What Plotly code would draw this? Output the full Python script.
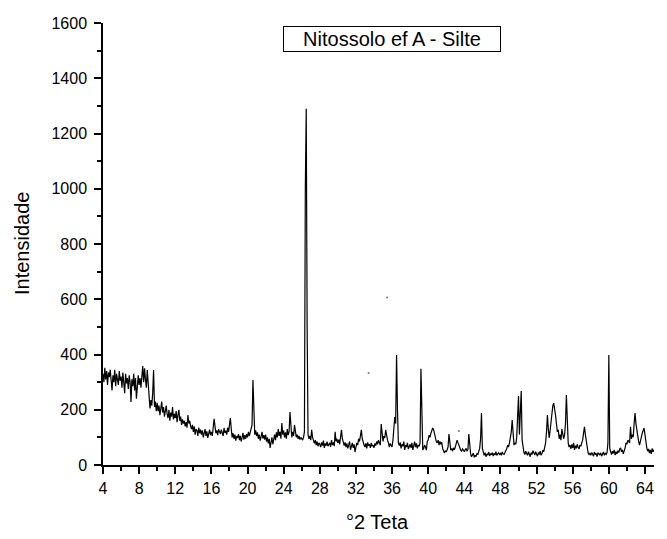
import plotly.graph_objects as go

# 2-theta sampling of the diffractogram (degrees), regular 0.1 deg step
two_theta_start = 4.0
two_theta_step = 0.1

# Intensity, one row per degree (d.0 ... d.9)
intens_04_13 = [
    330, 300, 352, 310, 340, 290, 335, 318, 345, 300,   # 4
    270, 325, 300, 345, 285, 330, 310, 290, 340, 305,   # 5
    320, 280, 335, 300, 260, 330, 295, 315, 275, 325,   # 6
    300, 228, 310, 285, 330, 270, 315, 240, 300, 325,   # 7
    290, 315, 280, 330, 358, 300, 350, 310, 280, 344,   # 8
    300, 250, 205, 235, 215, 260, 344, 210, 230, 195,   # 9
    225, 195, 215, 180, 205, 230, 190, 210, 175, 200,   # 10
    215, 185, 170, 200, 160, 190, 175, 210, 165, 185,   # 11
    170, 195, 155, 180, 200, 160, 175, 145, 165, 150,   # 12
    160, 140, 155, 135, 181, 150, 160, 140, 130, 145,   # 13
]
intens_14_23 = [
    120, 140, 110, 130, 125, 105, 135, 115, 128, 110,   # 14
    125, 100, 118, 130, 105, 122, 98, 115, 128, 108,    # 15
    120, 105, 130, 167, 140, 115, 125, 108, 130, 118,   # 16
    112, 128, 120, 105, 134, 116, 124, 110, 135, 120,   # 17
    145, 170, 130, 100, 115, 95, 110, 88, 105, 98,      # 18
    112, 90, 106, 85, 100, 116, 92, 108, 95, 112,       # 19
    100, 120, 105, 118, 130, 145, 308, 160, 110, 125,   # 20
    105, 118, 95, 110, 88, 102, 120, 96, 108, 92,       # 21
    110, 85, 100, 78, 95, 62, 88, 100, 75, 95,          # 22
    110, 90, 118, 100, 130, 105, 120, 95, 152, 110,     # 23
]
intens_24_33 = [
    125, 100, 118, 95, 130, 108, 120, 192, 115, 100,    # 24
    120, 105, 145, 118, 100, 110, 95, 105, 92, 100,     # 25
    95, 90, 100, 120, 1000, 1290, 500, 110, 95, 105,    # 26
    90, 127, 100, 85, 78, 90, 72, 85, 68, 80,           # 27
    75, 65, 82, 70, 88, 62, 78, 70, 85, 68,             # 28
    75, 80, 66, 90, 72, 82, 68, 120, 85, 95,            # 29
    80, 92, 75, 100, 127, 95, 85, 70, 82, 65,           # 30
    78, 60, 72, 85, 55, 70, 80, 62, 75, 47,             # 31
    68, 80, 72, 95, 85, 105, 127, 95, 80, 72,           # 32
    65, 78, 60, 82, 70, 75, 62, 80, 68, 72,             # 33
]
intens_34_43 = [
    62, 78, 70, 85, 75, 90, 80, 72, 148, 95,            # 34
    85, 105, 98, 127, 100, 90, 80, 65, 78, 72,          # 35
    65, 90, 120, 174, 150, 398, 200, 80, 70, 82,        # 36
    60, 75, 68, 85, 55, 72, 65, 80, 58, 70,             # 37
    75, 62, 80, 55, 70, 85, 65, 78, 60, 72,             # 38
    68, 80, 348, 100, 54, 60, 72, 65, 54, 85,           # 39
    90, 108, 100, 115, 125, 134, 128, 110, 90, 85,      # 40
    80, 90, 72, 85, 75, 82, 60, 48, 43, 52,             # 41
    47, 55, 65, 112, 70, 54, 60, 50, 62, 55,            # 42
    65, 75, 90, 80, 70, 60, 54, 50, 58, 54,             # 43
]
intens_44_53 = [
    48, 55, 60, 50, 56, 112, 65, 40, 30, 38,            # 44
    43, 28, 35, 30, 42, 38, 50, 60, 95, 188,            # 45
    60, 42, 35, 45, 30, 40, 36, 47, 33, 40,             # 46
    38, 45, 32, 42, 36, 48, 35, 40, 44, 38,             # 47
    42, 35, 47, 40, 38, 45, 50, 60, 72, 65,             # 48
    80, 95, 120, 163, 90, 72, 80, 75, 100, 180,         # 49
    250, 110, 200, 268, 90, 54, 45, 38, 50, 42,         # 50
    35, 48, 40, 30, 45, 38, 52, 42, 36, 48,             # 51
    40, 32, 45, 38, 50, 35, 42, 54, 48, 60,             # 52
    80, 120, 181, 130, 98, 125, 160, 195, 215, 224,     # 53
]
intens_54_65 = [
    205, 180, 150, 120, 127, 95, 110, 90, 130, 105,     # 54
    95, 110, 150, 253, 120, 80, 65, 72, 58, 75,         # 55
    62, 80, 55, 70, 60, 75, 65, 58, 72, 68,             # 56
    80, 90, 115, 138, 110, 85, 60, 45, 38, 42,          # 57
    35, 45, 40, 32, 47, 38, 42, 30, 45, 40,             # 58
    36, 44, 32, 40, 47, 35, 42, 38, 45, 80,             # 59
    398, 60, 45, 38, 50, 42, 55, 36, 48, 40,            # 60
    52, 45, 58, 62, 48, 55, 40, 50, 62, 80,             # 61
    75, 90, 85, 80, 138, 95, 110, 101, 150, 188,        # 62
    150, 120, 101, 85, 72, 90, 100, 115, 125, 134,      # 63
    110, 80, 62, 50, 58, 43, 55, 40, 60, 48,            # 64
    55,                                                 # 65.0
]

# isolated stray points visible in the picture
stray_x = [33.4, 35.45, 43.4]
stray_y = [333, 606, 123]

x_tick_vals = [4, 8, 12, 16, 20, 24, 28, 32, 36, 40, 44, 48, 52, 56, 60, 64]
y_tick_vals = [0, 200, 400, 600, 800, 1000, 1200, 1400, 1600]

title_text = "Nitossolo ef A - Silte"
x_title = "°2 Teta"
y_title = "Intensidade"

intensity = (intens_04_13 + intens_14_23 + intens_24_33 +
             intens_34_43 + intens_44_53 + intens_54_65)
two_theta = [round(two_theta_start + i * two_theta_step, 2) for i in range(len(intensity))]

FONT = "Arial, Liberation Sans, sans-serif"

fig = go.Figure()
fig.add_trace(go.Scatter(x=two_theta, y=intensity, mode="lines",
                         line=dict(color="black", width=1.2),
                         hoverinfo="skip", showlegend=False))
fig.add_trace(go.Scatter(x=stray_x, y=stray_y, mode="markers",
                         marker=dict(color="#777777", size=2),
                         hoverinfo="skip", showlegend=False))

axis_common = dict(
    showgrid=False, zeroline=False, showline=True, linecolor="black",
    linewidth=1.5, ticks="outside", ticklen=7, tickwidth=1.5,
    tickcolor="black", mirror=False,
    tickfont=dict(family=FONT, size=16, color="black"),
)

fig.update_layout(
    width=667, height=539,
    margin=dict(l=103, r=13, t=23, b=74),
    paper_bgcolor="white", plot_bgcolor="white",
    font=dict(family=FONT, color="black"),
    xaxis=dict(range=[4, 65], tickvals=x_tick_vals, ticklabelstandoff=1,
               minor=dict(dtick=2, tick0=4, ticks="outside", ticklen=4,
                          tickwidth=1.5, tickcolor="black"),
               **axis_common),
    yaxis=dict(range=[0, 1600], tickvals=y_tick_vals, ticklabelstandoff=4,
               minor=dict(dtick=100, tick0=0, ticks="outside", ticklen=4,
                          tickwidth=1.5, tickcolor="black"),
               **axis_common),
    annotations=[
        dict(text=title_text, xref="paper", yref="paper", x=0.5245, y=0.9627,
             xanchor="center", yanchor="middle", showarrow=False,
             font=dict(family=FONT, size=20, color="black"),
             bordercolor="black", borderwidth=1, borderpad=1,
             width=214, height=22, bgcolor="white"),
        dict(text=x_title, xref="paper", yref="paper", x=0.499, y=-0.129,
             xanchor="center", yanchor="middle", showarrow=False,
             font=dict(family=FONT, size=20, color="black")),
        dict(text=y_title, xref="paper", yref="paper", x=-0.147, y=0.5,
             xanchor="center", yanchor="middle", showarrow=False, textangle=-90,
             font=dict(family=FONT, size=20, color="black")),
    ],
)

fig.write_html("out.html", config={"displayModeBar": False},
               post_script="document.body.style.margin='0';")
